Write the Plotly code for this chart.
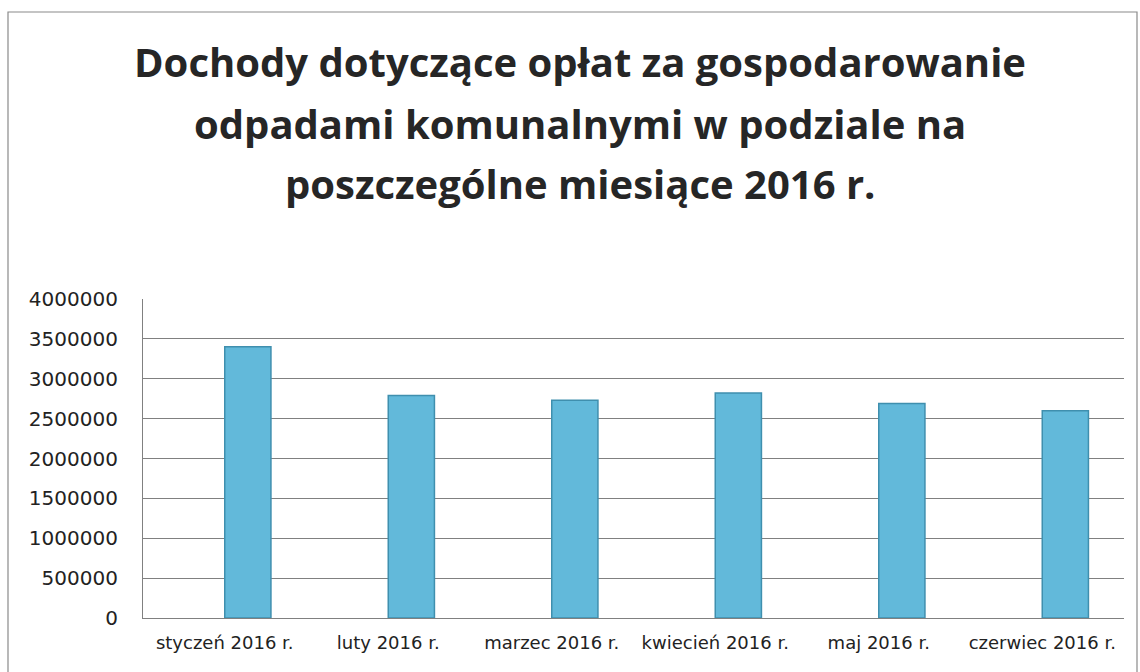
import plotly.graph_objects as go

categories = ["styczeń 2016 r.", "luty 2016 r.", "marzec 2016 r.",
              "kwiecień 2016 r.", "maj 2016 r.", "czerwiec 2016 r."]
empty_series = [None, None, None, None, None, None]
values = [3400000, 2790000, 2730000, 2820000, 2690000, 2600000]
tick_vals = [0, 500000, 1000000, 1500000, 2000000, 2500000, 3000000, 3500000, 4000000]
tick_text = ["0", "500000", "1000000", "1500000", "2000000", "2500000", "3000000", "3500000", "4000000"]
title_lines = ["Dochody dotyczące opłat za gospodarowanie",
               "odpadami komunalnymi w podziale na",
               "poszczególne miesiące 2016 r."]

W, H = 1140, 672
L, R, T, B = 143, 1124, 299, 618
PW, PH = R - L, B - T

fig = go.Figure()
fig.add_trace(go.Bar(x=categories, y=empty_series, showlegend=False, hoverinfo="skip",
                     marker=dict(color="rgba(0,0,0,0)")))
fig.add_trace(go.Bar(x=categories, y=values, showlegend=False,
                     marker=dict(color="#62B9DA", line=dict(color="#3F8FAE", width=1.5))))

def px_x(p):
    return (p - L) / PW

def px_y(p):
    return (B - p) / PH

annotations = []
for line, ycen in zip(title_lines, [61, 123, 183]):
    annotations.append(dict(text=line, xref="paper", yref="paper", x=px_x(580), y=px_y(ycen),
                            xanchor="center", yanchor="middle", showarrow=False,
                            font=dict(family="Open Sans", size=40, color="#262626", weight="bold")))

fig.update_layout(
    width=W, height=H,
    margin=dict(l=L, r=W - R, t=T, b=H - B, pad=0),
    paper_bgcolor="white", plot_bgcolor="white",
    barmode="group", bargap=0.435, bargroupgap=0,
    annotations=annotations,
    shapes=[dict(type="rect", xref="paper", yref="paper",
                 x0=px_x(8), x1=px_x(1137), y0=px_y(690), y1=px_y(12),
                 line=dict(color="#8a8a8a", width=1.2), fillcolor="rgba(0,0,0,0)", layer="below")],
    xaxis=dict(showgrid=False, showline=True, linecolor="#808080", linewidth=1.2,
               ticks="", tickfont=dict(family="DejaVu Sans", size=18, color="#222222"),
               ticklabelstandoff=8),
    yaxis=dict(range=[0, 4000000], tickvals=tick_vals, ticktext=tick_text,
               showgrid=True, gridcolor="#808080", gridwidth=1.2,
               showline=True, linecolor="#808080", linewidth=1.2, zeroline=False,
               ticks="", tickfont=dict(family="DejaVu Sans", size=20, color="#222222"),
               ticklabelstandoff=20),
)

fig.write_html("out.html")
